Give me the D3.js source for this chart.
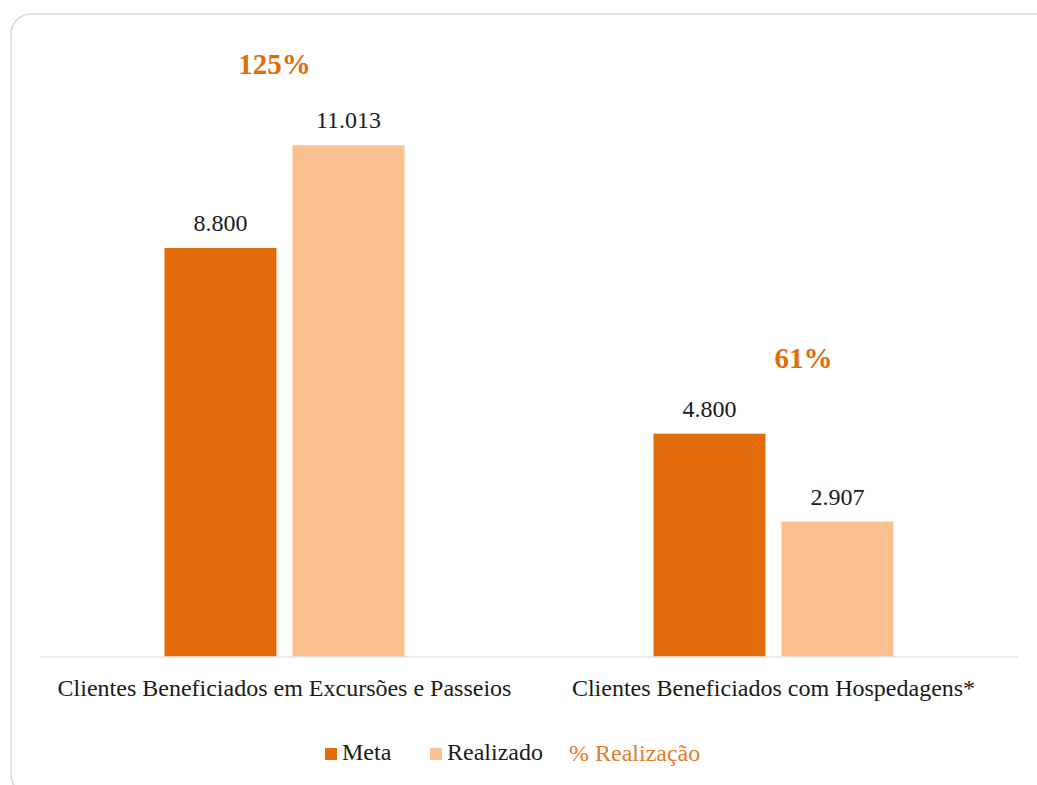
<!DOCTYPE html>
<html><head><meta charset="utf-8">
<script src="https://cdn.jsdelivr.net/npm/d3@7"></script>
<style>html,body{margin:0;padding:0;background:#fff;}svg{display:block;}</style>
</head><body>
<svg id="chart" width="1037" height="785"></svg>
<script>
const categories = ["Clientes Beneficiados em Excursões e Passeios", "Clientes Beneficiados com Hospedagens*"];
const seriesNames = ["Meta", "Realizado"];
const meta = [8800, 4800];
const realizado = [11013, 2907];
const pctRealizacao = [1.25, 0.61];
const pctLabels = ["125%", "61%"];

const colors = {Meta: "#E36C0A", Realizado: "#FAC090"};
const pctColor = "#E36C0A";
const pctLabelDx = [-10, 30];
const serif = "Liberation Serif, Times New Roman, serif";

const svg = d3.select("#chart");
const fmt = d3.formatLocale({decimal: ",", thousands: ".", grouping: [3], currency: ["", ""]}).format(",d");

// frame
svg.append("rect").attr("x", 11).attr("y", 14).attr("width", 1045).attr("height", 781)
  .attr("rx", 20).attr("fill", "#fff").attr("stroke", "#d9d9d9").attr("stroke-width", 1.5);

const plot = {left: 40, right: 1018, top: 99.5, bottom: 656.5};
const x0 = d3.scaleBand().domain(categories).range([plot.left, plot.right]).padding(0);
const x1 = d3.scaleBand().domain(seriesNames).range([0, x0.bandwidth()]).paddingInner(0.125).paddingOuter(0.973);
const y = d3.scaleLinear().domain([0, 12000]).range([plot.bottom, plot.top]);
const y2 = d3.scaleLinear().domain([0, 1.4]).range([plot.bottom, plot.bottom - 1.4 * 460]);

const rows = categories.map((c, i) => ({cat: c, values: [{s: "Meta", v: meta[i]}, {s: "Realizado", v: realizado[i]}]}));

const g = svg.append("g").selectAll("g").data(rows).join("g")
  .attr("transform", d => `translate(${x0(d.cat)},0)`);

g.selectAll("rect").data(d => d.values).join("rect")
  .attr("x", d => x1(d.s)).attr("width", x1.bandwidth())
  .attr("y", d => y(d.v)).attr("height", d => y(0) - y(d.v))
  .attr("fill", d => colors[d.s]);

g.selectAll("text.val").data(d => d.values).join("text").attr("class", "val")
  .attr("x", d => x1(d.s) + x1.bandwidth() / 2).attr("y", d => y(d.v) - 17)
  .attr("text-anchor", "middle").attr("font-family", serif)
  .attr("font-size", 24).attr("fill", "#1a1a1a").text(d => fmt(d.v));

// baseline axis
const xAxis = d3.axisBottom(x0).tickSize(0).tickPadding(0);
const ax = svg.append("g").attr("transform", `translate(0,${plot.bottom})`).call(xAxis);
ax.select(".domain").attr("stroke", "#d9d9d9").attr("stroke-width", 1.2);
ax.selectAll(".tick text").attr("font-family", serif)
  .attr("font-size", 24).attr("fill", "#1a1a1a").attr("dy", 0).attr("y", 39.5);

// percentage labels
svg.append("g").selectAll("text").data(categories).join("text")
  .attr("x", (c, i) => x0(c) + x0.bandwidth() / 2 + pctLabelDx[i])
  .attr("y", (c, i) => y2(pctRealizacao[i]) - 8)
  .attr("text-anchor", "middle").attr("font-family", serif)
  .attr("font-size", 29).attr("font-weight", "bold").attr("fill", pctColor)
  .text((c, i) => pctLabels[i]);

// legend
const legend = svg.append("g").attr("font-family", serif).attr("font-size", 24);
const legItems = [
  {name: "Meta", x: 325, swatch: colors.Meta, color: "#1a1a1a"},
  {name: "Realizado", x: 430, swatch: colors.Realizado, color: "#1a1a1a"}
];
legItems.forEach(it => {
  legend.append("rect").attr("x", it.x).attr("y", 748).attr("width", 12).attr("height", 12).attr("fill", it.swatch);
  legend.append("text").attr("x", it.x + 17).attr("y", 760).attr("fill", it.color).text(it.name);
});
legend.append("text").attr("x", 569).attr("y", 761).attr("fill", "#E87A2A").text("% Realização");
</script>
</body></html>
